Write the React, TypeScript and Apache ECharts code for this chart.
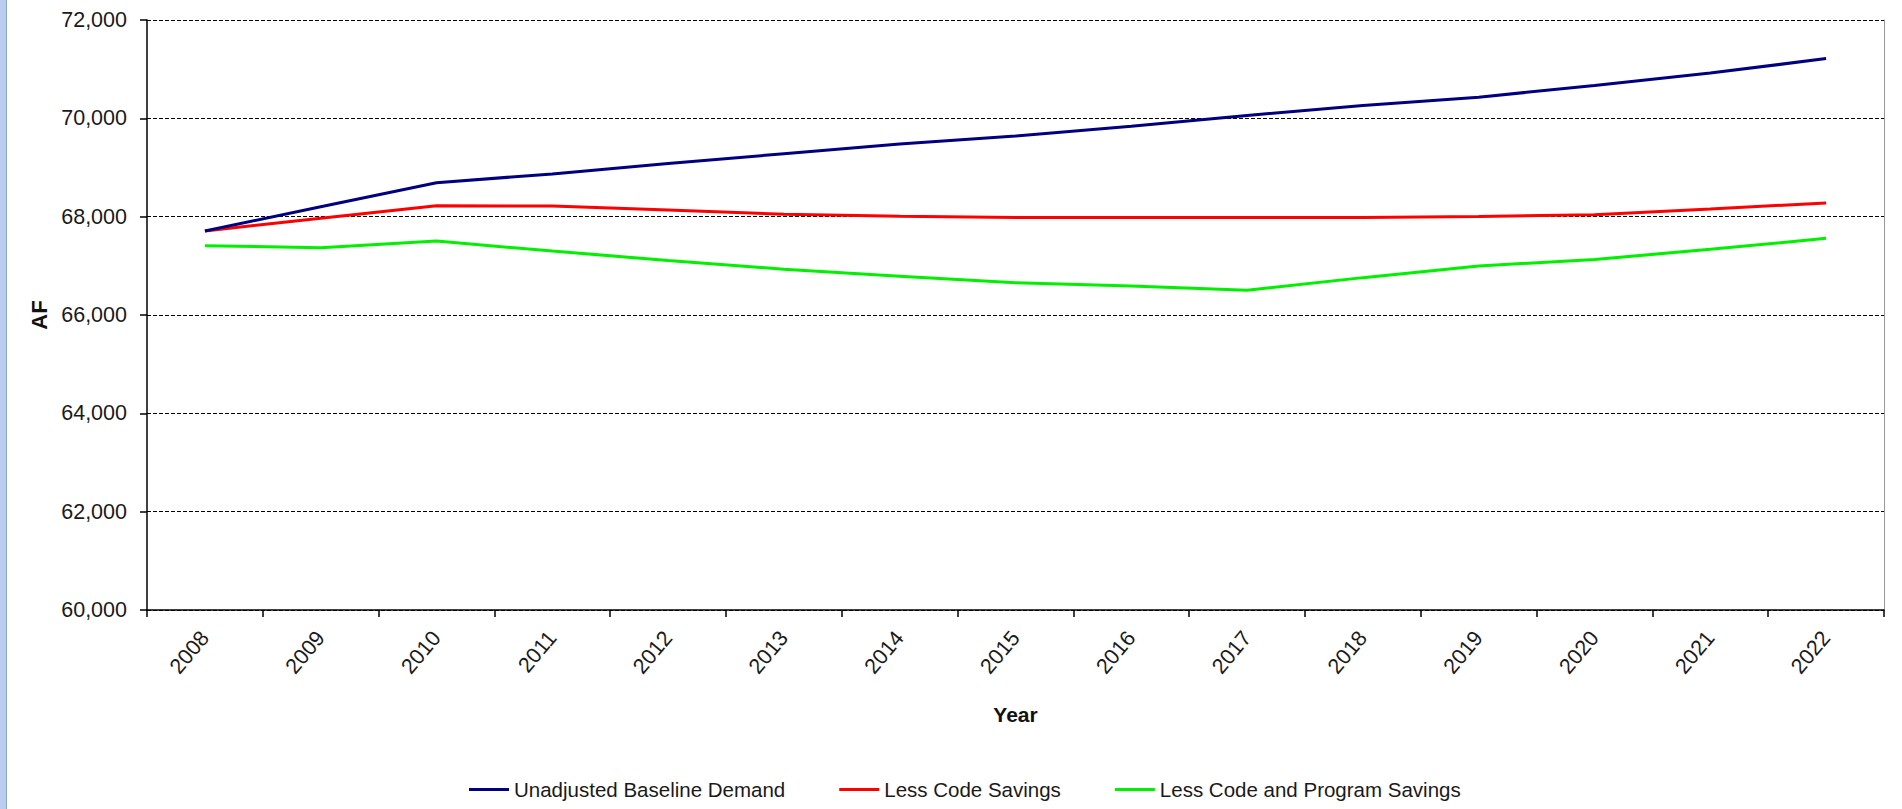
import React, { useEffect, useRef } from "react";
import * as echarts from "echarts";

const years = ["2008","2009","2010","2011","2012","2013","2014","2015","2016","2017","2018","2019","2020","2021","2022"];
const baseline = [67710, 68200, 68690, 68870, 69080, 69280, 69480, 69640, 69840, 70060, 70260, 70430, 70670, 70920, 71215];
const lessCode = [67710, 67970, 68220, 68215, 68135, 68050, 68010, 67985, 67985, 67985, 67985, 68005, 68040, 68155, 68280];
const lessCodeProgram = [67410, 67370, 67505, 67300, 67110, 66930, 66790, 66655, 66590, 66505, 66760, 66995, 67130, 67335, 67560];
const seriesNames = ["Unadjusted Baseline Demand", "Less Code Savings", "Less Code and Program Savings"];
const seriesColors = ["#000080", "#ff0000", "#00f000"];

const FONT = "'Liberation Sans', Arial, sans-serif";

export default function App() {
  const ref = useRef<HTMLDivElement>(null);
  useEffect(() => {
    if (!ref.current) return;
    const chart = echarts.init(ref.current, undefined, { renderer: "svg" });
    const data = [baseline, lessCode, lessCodeProgram];
    chart.setOption({
      animation: false,
      backgroundColor: "#ffffff",
      textStyle: { fontFamily: FONT },
      grid: { left: 147, right: 18, top: 20, bottom: 199, containLabel: false },
      legend: {
        left: 464,
        top: 774,
        icon: "rect",
        itemWidth: 40,
        itemHeight: 3,
        itemGap: 54,
        textStyle: { fontFamily: FONT, fontSize: 20.5, color: "#1a1a1a" },
        data: seriesNames,
      },
      graphic: [
        { type: "rect", left: 0, top: 0, shape: { width: 6, height: 809 }, style: { fill: "#b9cdef" } },
        { type: "rect", left: 6, top: 0, shape: { width: 1, height: 809 }, style: { fill: "#8fa6cc" } },
      ],
      xAxis: {
        type: "category",
        data: years,
        boundaryGap: true,
        name: "Year",
        nameLocation: "middle",
        nameGap: 94,
        nameTextStyle: { fontFamily: FONT, fontSize: 21, fontWeight: "bold", color: "#111" },
        axisLine: { show: true, lineStyle: { color: "#000", width: 1.5 } },
        axisTick: { show: true, length: 7, lineStyle: { color: "#000", width: 1.5 } },
        axisLabel: { rotate: 50, margin: 24, fontFamily: FONT, fontSize: 21.5, color: "#1a1a1a", interval: 0 },
        splitLine: { show: false },
      },
      yAxis: [
        {
          type: "value",
          min: 60000,
          max: 72000,
          interval: 2000,
          name: "AF",
          nameLocation: "middle",
          nameGap: 74,
          nameTextStyle: { fontFamily: FONT, fontSize: 22, fontWeight: "bold", color: "#111" },
          axisLine: { show: true, lineStyle: { color: "#000", width: 1.5 } },
          axisTick: { show: true, length: 7, lineStyle: { color: "#000", width: 1.5 } },
          axisLabel: {
            margin: 20,
            fontFamily: FONT,
            fontSize: 21.5,
            color: "#1a1a1a",
            formatter: (v: number) => v.toLocaleString("en-US"),
          },
          splitLine: { show: true, lineStyle: { color: "#000", width: 1.2, type: [4, 2] } },
        },
        {
          type: "value",
          position: "right",
          min: 60000,
          max: 72000,
          interval: 2000,
          axisLine: { show: true, lineStyle: { color: "#999", width: 1 } },
          axisTick: { show: false },
          axisLabel: { show: false },
          splitLine: { show: false },
        },
      ],
      series: seriesNames.map((name, i) => ({
        name,
        type: "line",
        yAxisIndex: 0,
        data: data[i],
        symbol: "none",
        smooth: false,
        lineStyle: { color: seriesColors[i], width: 3 },
        itemStyle: { color: seriesColors[i] },
        z: 3 - i,
      })),
    });
    return () => chart.dispose();
  }, []);
  return (
    <div
      ref={ref}
      style={{ position: "fixed", left: 0, top: 0, width: "1902px", height: "809px" }}
    />
  );
}
